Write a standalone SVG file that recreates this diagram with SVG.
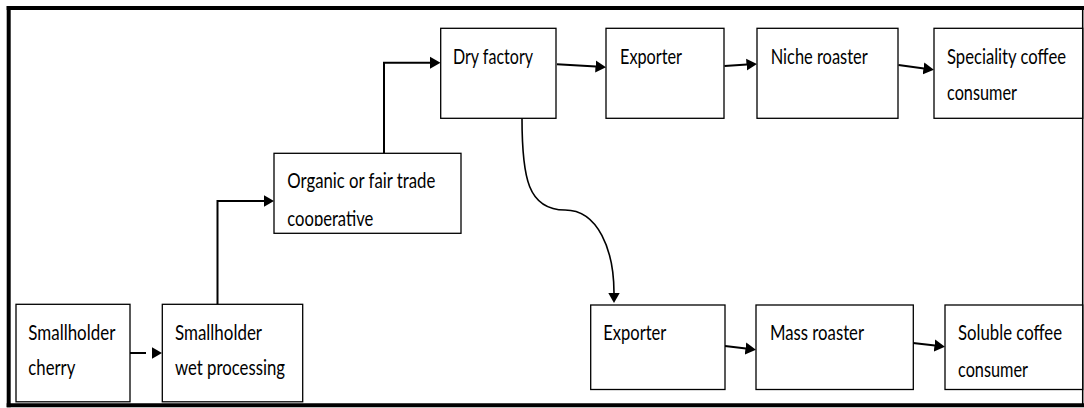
<svg xmlns="http://www.w3.org/2000/svg" width="1084" height="408" viewBox="0 0 1084 408">
<style>
.box{fill:#fff;stroke:#000;stroke-width:1.3}
.t{font-family:Lato,"Liberation Sans",sans-serif;font-size:20.5px;fill:#000}
.c{fill:none;stroke:#000;stroke-width:2}
.cs{fill:none;stroke:#000;stroke-width:1.6}
.frame{stroke:#000;stroke-width:4}
</style>
<defs>
<marker id="ah" markerUnits="userSpaceOnUse" markerWidth="11" markerHeight="13" viewBox="0 0 11 13" refX="0.5" refY="6.5" orient="auto">
<path d="M0,0.5 L10.5,6.5 L0,12.5 z" fill="#000"/>
</marker>
<clipPath id="coopclip"><rect x="274" y="153" width="187" height="73"/></clipPath>
</defs>
<rect width="1084" height="408" fill="#fff"/>
<g id="frame">
<line class="frame" x1="6.7" y1="8" x2="1084" y2="8"/>
<line class="frame" x1="8.7" y1="6" x2="8.7" y2="407.3"/>
<line class="frame" x1="6.7" y1="405.3" x2="1084" y2="405.3"/>
<line x1="1082.7" y1="8" x2="1082.7" y2="405" stroke="#000" stroke-width="1.5"/>
</g>
<g id="connectors">
<path class="c" d="M130,353 H152" stroke-dasharray="16 10" marker-end="url(#ah)"/>
<path class="c" d="M217.5,304 V201 H264" marker-end="url(#ah)"/>
<path class="c" d="M384,153 V62.7 H430.5" marker-end="url(#ah)"/>
<path class="c" d="M557,64.3 L596,66.6" stroke-width="2.5" marker-end="url(#ah)"/>
<path class="c" d="M724.5,66 L747,64.6" stroke-width="2.5" marker-end="url(#ah)"/>
<path class="c" d="M898.5,65 L924,68.4" stroke-width="2.5" marker-end="url(#ah)"/>
<path class="cs" d="M522,118 C522,178 528,210 565,210 C598,210 614,250 614,293" marker-end="url(#ah)"/>
<path class="c" d="M725,346 L746,348.6" stroke-width="2.5" marker-end="url(#ah)"/>
<path class="c" d="M913,343 L935,345.6" stroke-width="2.5" marker-end="url(#ah)"/>
</g>
<g id="n-cherry">
<rect class="box" x="16" y="304.3" width="114" height="97.5"/>
<text class="t" x="28.3" y="340" textLength="87" lengthAdjust="spacingAndGlyphs">Smallholder</text>
<text class="t" x="28.3" y="375" textLength="47" lengthAdjust="spacingAndGlyphs">cherry</text>
</g>
<g id="n-wet">
<rect class="box" x="162.3" y="304.3" width="140.4" height="97.5"/>
<text class="t" x="175" y="340" textLength="87" lengthAdjust="spacingAndGlyphs">Smallholder</text>
<text class="t" x="175" y="375" textLength="110" lengthAdjust="spacingAndGlyphs">wet processing</text>
</g>
<g id="n-coop">
<rect class="box" x="274" y="153.3" width="187" height="80"/>
<text class="t" x="287.3" y="188" textLength="148" lengthAdjust="spacingAndGlyphs">Organic or fair trade</text>
<text class="t" x="287.3" y="225.5" textLength="86" lengthAdjust="spacingAndGlyphs" clip-path="url(#coopclip)">cooperative</text>
</g>
<g id="n-dry">
<rect class="box" x="440.7" y="28.3" width="115.3" height="90"/>
<text class="t" x="453" y="64" textLength="80" lengthAdjust="spacingAndGlyphs">Dry factory</text>
</g>
<g id="n-exp1">
<rect class="box" x="606" y="28.3" width="118" height="90"/>
<text class="t" x="620" y="64" textLength="62" lengthAdjust="spacingAndGlyphs">Exporter</text>
</g>
<g id="n-niche">
<rect class="box" x="757" y="28.3" width="141" height="90"/>
<text class="t" x="770.7" y="63.5" textLength="97" lengthAdjust="spacingAndGlyphs">Niche roaster</text>
</g>
<g id="n-spec">
<rect class="box" x="934" y="28.3" width="148.7" height="90"/>
<text class="t" transform="translate(947,63.5) scale(0.82,1)" x="0" y="0" textLength="145.1" lengthAdjust="spacingAndGlyphs">Speciality coffee</text>
<text class="t" x="947" y="100" textLength="70" lengthAdjust="spacingAndGlyphs">consumer</text>
</g>
<g id="n-exp2">
<rect class="box" x="590.7" y="305" width="134.3" height="84.5"/>
<text class="t" x="603.3" y="340" textLength="63" lengthAdjust="spacingAndGlyphs">Exporter</text>
</g>
<g id="n-mass">
<rect class="box" x="756" y="305" width="157.3" height="84.5"/>
<text class="t" x="770" y="340" textLength="94" lengthAdjust="spacingAndGlyphs">Mass roaster</text>
</g>
<g id="n-soluble">
<rect class="box" x="945" y="305" width="137.7" height="84.5"/>
<text class="t" x="958" y="340" textLength="104" lengthAdjust="spacingAndGlyphs">Soluble coffee</text>
<text class="t" x="958" y="377" textLength="70" lengthAdjust="spacingAndGlyphs">consumer</text>
</g>
</svg>
